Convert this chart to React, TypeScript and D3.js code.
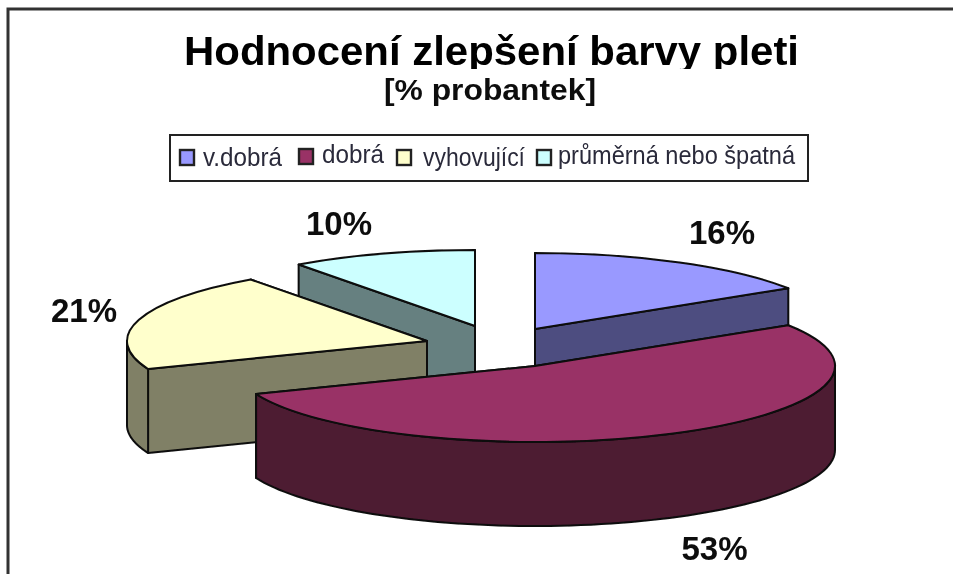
import React from "react";
import * as d3 from "d3";

const categories = ["v.dobrá", "dobrá", "vyhovující", "průměrná nebo špatná"];
const shares = [16, 53, 21, 10];
const topColours = ["#9999FF", "#993366", "#FFFFCC", "#CCFFFF"];
const wallColours = ["#4D4D80", "#4D1A33", "#808066", "#668080"];
const titleText = "Hodnocení zlepšení barvy pleti";
const subtitleText = "[% probantek]";

// layout, exploded-slice centres and label anchors
const apexX = [535, 535, 427, 475];
const apexY = [329, 366, 341, 326];
const labelX = [722, 714.5, 84, 339];
const labelY = [244, 560, 322, 235];
const legendMarkerX = [180, 299, 397, 537];
const legendMarkerY = [150, 149, 150, 150];
const legendTextX = [203, 322, 423, 558];
const legendTextLen = [79, 62, 102, 237];
const legendBaseline = [166, 163, 166, 164];
const drawOrder = [3, 0, 2, 1];

const RX = 300;
const RY = 76;
const DEPTH = 84;
const FONT = "'Liberation Sans', Arial, sans-serif";
const LINE = "#0c0c0c";

const pie = d3.pie<number>().sort(null).value((d) => d);
const arcs = pie(shares);
const arcGen = d3.arc<any>().innerRadius(0).outerRadius(RX);

const px = (a: number) => RX * Math.sin(a);
const py = (a: number) => -RY * Math.cos(a);

const outerArea = d3
  .area<number>()
  .x((a) => px(a))
  .y0((a) => py(a))
  .y1((a) => py(a) + DEPTH);

function outerWall(start: number, end: number): string | null {
  const lo = Math.max(start, Math.PI / 2);
  const hi = Math.min(end, (3 * Math.PI) / 2);
  if (hi <= lo) return null;
  const steps = d3.range(0, 81).map((i) => lo + ((hi - lo) * i) / 80);
  return outerArea(steps);
}

function edgeWall(a: number): string | null {
  return d3
    .area<number>()
    .x((v) => v * px(a))
    .y0((v) => v * py(a))
    .y1((v) => v * py(a) + DEPTH)([0, 1]);
}

function Slice({ i }: { i: number }) {
  const d = arcs[i];
  const outer = outerWall(d.startAngle, d.endAngle);
  const wallProps = {
    fill: wallColours[i],
    stroke: LINE,
    strokeWidth: 2,
    strokeLinejoin: "round" as const,
  };
  return (
    <g transform={`translate(${apexX[i]},${apexY[i]})`}>
      <path d={edgeWall(d.endAngle) || ""} {...wallProps} />
      <path d={edgeWall(d.startAngle) || ""} {...wallProps} />
      {outer && <path d={outer} {...wallProps} />}
      <path
        d={arcGen(d) || ""}
        transform={`scale(1,${RY / RX})`}
        fill={topColours[i]}
        stroke={LINE}
        strokeWidth={2}
        strokeLinejoin="round"
        vectorEffect="non-scaling-stroke"
      />
    </g>
  );
}

export default function App() {
  return (
    <svg
      width={953}
      height={574}
      viewBox="0 0 953 574"
      style={{ position: "absolute", left: 0, top: 0, background: "#fff" }}
    >
      <defs>
        <filter id="soft" x="-2%" y="-2%" width="104%" height="104%">
          <feGaussianBlur stdDeviation="0.55" />
        </filter>
        <clipPath id="titleClip">
          <rect x={0} y={20} width={953} height={49} />
        </clipPath>
      </defs>
      <g filter="url(#soft)">
        <path d="M8,574V9H953" fill="none" stroke="#333" strokeWidth={3} />

        <g clipPath="url(#titleClip)">
          <text
            x={184}
            y={65}
            textLength={615}
            lengthAdjust="spacingAndGlyphs"
            fontFamily={FONT}
            fontWeight={700}
            fontSize={41}
            fill="#000"
          >
            {titleText}
          </text>
        </g>
        <text
          x={384}
          y={100}
          textLength={212}
          lengthAdjust="spacingAndGlyphs"
          fontFamily={FONT}
          fontWeight={700}
          fontSize={30}
          fill="#111"
        >
          {subtitleText}
        </text>

        <rect x={170} y={135} width={638} height={46} fill="#fff" stroke="#222" strokeWidth={2} />
        {categories.map((c, i) => (
          <g key={c}>
            <rect
              x={legendMarkerX[i]}
              y={legendMarkerY[i]}
              width={14}
              height={15}
              fill={topColours[i]}
              stroke="#222"
              strokeWidth={2.4}
            />
            <text
              x={legendTextX[i]}
              y={legendBaseline[i]}
              textLength={legendTextLen[i]}
              lengthAdjust="spacingAndGlyphs"
              fontFamily={FONT}
              fontSize={25}
              fill="#2a2a3a"
            >
              {c}
            </text>
          </g>
        ))}

        {drawOrder.map((i) => (
          <Slice key={i} i={i} />
        ))}

        {shares.map((v, i) => (
          <text
            key={i}
            x={labelX[i]}
            y={labelY[i]}
            textAnchor="middle"
            fontFamily={FONT}
            fontWeight={700}
            fontSize={33}
            fill="#0a0a0a"
          >
            {`${v}%`}
          </text>
        ))}
      </g>
    </svg>
  );
}
